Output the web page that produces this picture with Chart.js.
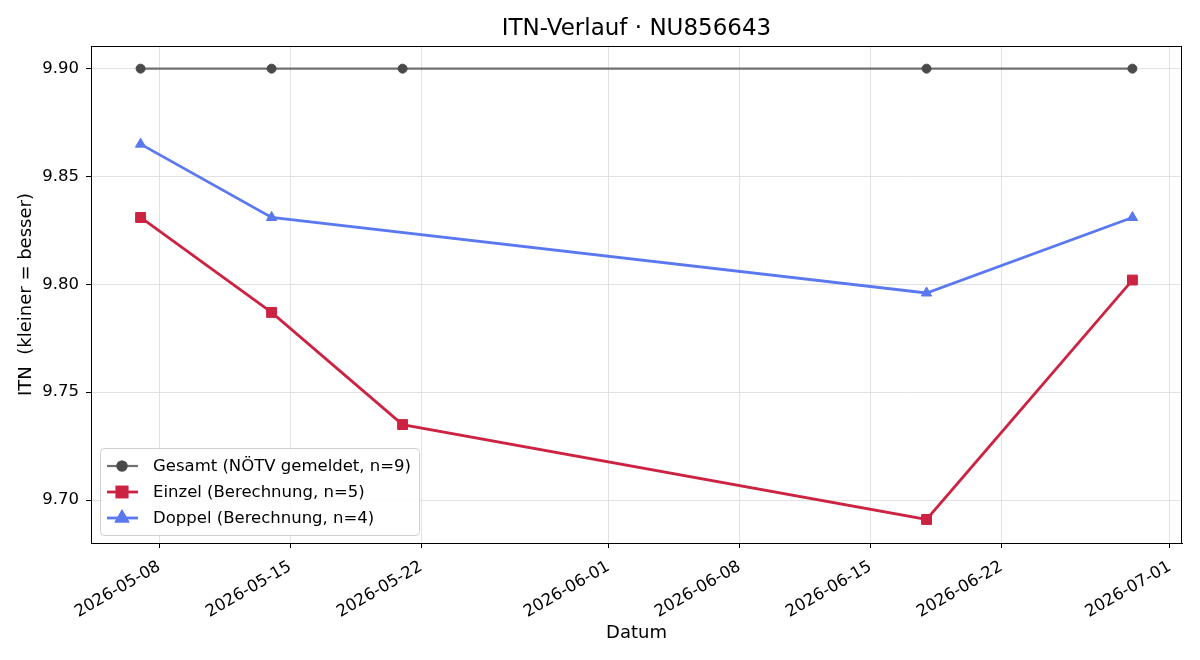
<!DOCTYPE html>
<html>
<head>
<meta charset="utf-8">
<script src="https://cdn.jsdelivr.net/npm/chart.js@4/dist/chart.umd.min.js"></script>
<style>
  html, body { margin: 0; padding: 0; background: #fff; }
  #wrap { width: 1200px; height: 660px; }
</style>
</head>
<body>
<div id="wrap"><canvas id="itnChart" width="1200" height="660"></canvas></div>
<script>
const gesamtDates = ['2026-05-07', '2026-05-14', '2026-05-21', '2026-06-18', '2026-06-29'];
const gesamtValues = [9.90, 9.90, 9.90, 9.90, 9.90];
const einzelDates = ['2026-05-07', '2026-05-14', '2026-05-21', '2026-06-18', '2026-06-29'];
const einzelValues = [9.831, 9.787, 9.735, 9.691, 9.802];
const doppelDates = ['2026-05-07', '2026-05-14', '2026-06-18', '2026-06-29'];
const doppelValues = [9.865, 9.831, 9.796, 9.831];

const xTickDates = ['2026-05-08', '2026-05-15', '2026-05-22', '2026-06-01', '2026-06-08', '2026-06-15', '2026-06-22', '2026-07-01'];
const yTickValues = [9.70, 9.75, 9.80, 9.85, 9.90];

const FONT = "'DejaVu Sans', sans-serif";
const EPOCH = Date.UTC(2026, 4, 1);

function toDay(s) {
    const p = s.split('-').map(Number);
    return (Date.UTC(p[0], p[1] - 1, p[2]) - EPOCH) / 86400000;
}
function fromDay(d) {
    return new Date(EPOCH + d * 86400000).toISOString().slice(0, 10);
}
function toPoints(dates, values) {
    return dates.map((d, i) => ({ x: toDay(d), y: values[i] }));
}

// Titel, Achsentitel, Rahmen und Legende selbst zeichnen
const decoPlugin = {
    id: 'deco',
    afterDraw(chart) {
        const c = chart.ctx;
        const a = chart.chartArea;
        c.save();
        c.strokeStyle = '#000';
        c.lineWidth = 1;
        c.strokeRect(a.left + 0.5, a.top + 0.5, a.right - a.left - 1, a.bottom - a.top);

        c.fillStyle = '#000';
        c.textAlign = 'center';
        c.textBaseline = 'middle';
        c.font = '23px ' + FONT;
        c.fillText('ITN-Verlauf · NU856643', (a.left + a.right) / 2, 29);
        c.font = '18px ' + FONT;
        c.fillText('Datum', (a.left + a.right) / 2, 633);
        c.translate(26, (a.top + a.bottom) / 2);
        c.rotate(-Math.PI / 2);
        c.fillText('ITN  (kleiner = besser)', 0, 0);
        c.restore();

        // Legende
        c.save();
        const bx = 100, by = 448, bw = 319, bh = 87, r = 4;
        c.beginPath();
        c.roundRect(bx + 0.5, by + 0.5, bw, bh, r);
        c.fillStyle = 'rgba(255,255,255,0.85)';
        c.fill();
        c.strokeStyle = '#d0d0d0';
        c.lineWidth = 1;
        c.stroke();
        c.font = '16.5px ' + FONT;
        c.textAlign = 'left';
        c.textBaseline = 'middle';
        chart.data.datasets.forEach((ds, i) => {
            const y = 466 + i * 26;
            c.strokeStyle = ds.borderColor;
            c.lineWidth = ds.borderWidth;
            c.beginPath();
            c.moveTo(107, y);
            c.lineTo(138, y);
            c.stroke();
            Chart.helpers.drawPoint(c, {
                pointStyle: ds.pointStyle,
                radius: ds.pointRadius,
                borderWidth: 1
            }, 122, y);
            c.fillStyle = ds.pointBackgroundColor;
            c.strokeStyle = ds.pointBorderColor;
            c.fill();
            c.stroke();
            c.fillStyle = '#000';
            c.fillText(ds.label, 153, y + 1);
        });
        c.restore();
    }
};

const ctx = document.getElementById('itnChart').getContext('2d');
const itnChart = new Chart(ctx, {
    type: 'line',
    data: {
        datasets: [
            {
                label: 'Gesamt (NÖTV gemeldet, n=9)',
                data: toPoints(gesamtDates, gesamtValues),
                borderColor: '#707070',
                borderWidth: 2.2,
                pointStyle: 'circle',
                pointRadius: 4.5,
                pointBackgroundColor: '#4a4a4a',
                pointBorderColor: '#4a4a4a',
                pointBorderWidth: 1
            },
            {
                label: 'Einzel (Berechnung, n=5)',
                data: toPoints(einzelDates, einzelValues),
                borderColor: '#cc2342',
                borderWidth: 2.8,
                pointStyle: 'rect',
                pointRadius: 7,
                pointBackgroundColor: '#cc2342',
                pointBorderColor: '#cc2342',
                pointBorderWidth: 1
            },
            {
                label: 'Doppel (Berechnung, n=4)',
                data: toPoints(doppelDates, doppelValues),
                borderColor: '#5a78ef',
                borderWidth: 2.8,
                pointStyle: 'triangle',
                pointRadius: 6,
                pointBackgroundColor: '#5a78ef',
                pointBorderColor: '#5a78ef',
                pointBorderWidth: 1
            }
        ]
    },
    options: {
        responsive: false,
        animation: false,
        layout: { padding: { top: 46, right: 18, left: 0, bottom: 0 } },
        plugins: {
            legend: { display: false },
            title: { display: false },
            tooltip: { enabled: false }
        },
        scales: {
            x: {
                type: 'linear',
                min: 3.35,
                max: 61.65,
                afterFit(scale) { scale.height = 117; },
                afterBuildTicks(scale) {
                    scale.ticks = xTickDates.map(d => ({ value: toDay(d) }));
                },
                ticks: {
                    autoSkip: false,
                    maxRotation: 30,
                    minRotation: 30,
                    color: '#000',
                    padding: 9,
                    font: { family: FONT, size: 16.5 },
                    callback: v => fromDay(v)
                },
                grid: {
                    color: '#e2e2e2',
                    tickColor: '#000',
                    tickLength: 5
                },
                border: { display: true, color: '#000', width: 1 }
            },
            y: {
                min: 9.6801,
                max: 9.9105,
                afterFit(scale) { scale.width = 91; },
                afterBuildTicks(scale) {
                    scale.ticks = yTickValues.map(v => ({ value: v }));
                },
                ticks: {
                    color: '#000',
                    padding: 7,
                    font: { family: FONT, size: 16.5 },
                    callback: v => v.toFixed(2)
                },
                grid: {
                    color: '#e2e2e2',
                    tickColor: '#000',
                    tickLength: 5
                },
                border: { display: true, color: '#000', width: 1 }
            }
        }
    },
    plugins: [decoPlugin]
});
</script>
</body>
</html>
